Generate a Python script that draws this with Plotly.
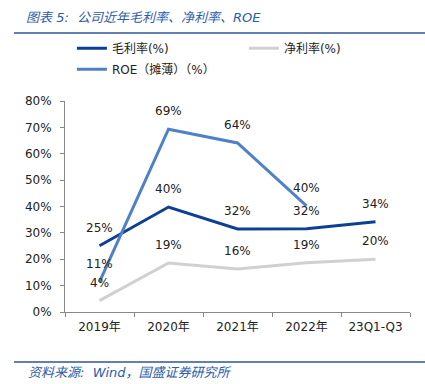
import plotly.graph_objects as go

categories = ["2019年", "2020年", "2021年", "2022年", "23Q1-Q3"]
gross_margin = [25.1, 39.8, 31.5, 31.6, 34.2]
net_margin = [4.3, 18.6, 16.3, 18.7, 20.0]
roe = [11.4, 69.3, 64.1, 40.2]
gross_labels = ["25%", "40%", "32%", "32%", "34%"]
net_labels = ["4%", "19%", "16%", "19%", "20%"]
roe_labels = ["11%", "69%", "64%", "40%"]
y_ticks = [0, 10, 20, 30, 40, 50, 60, 70, 80]

FONT = "DejaVu Sans, Noto Sans CJK SC, sans-serif"
C_GROSS = "#0D3F94"
C_NET = "#D0D0D0"
C_ROE = "#4F81C8"
C_TITLE = "#2A5CAA"

fig = go.Figure()
fig.add_trace(go.Scatter(x=categories, y=gross_margin, mode="lines", name="毛利率(%)",
                         line=dict(color=C_GROSS, width=3), legend="legend"))
fig.add_trace(go.Scatter(x=categories, y=net_margin, mode="lines", name="净利率(%)",
                         line=dict(color=C_NET, width=3), legend="legend"))
fig.add_trace(go.Scatter(x=categories[:len(roe)], y=roe, mode="lines", name="ROE（摊薄）（%）",
                         line=dict(color=C_ROE, width=3), legend="legend2"))

annotations = []
for xs, ys, labs in [(categories, gross_margin, gross_labels),
                     (categories, net_margin, net_labels),
                     (categories[:len(roe)], roe, roe_labels)]:
    for x, y, t in zip(xs, ys, labs):
        annotations.append(dict(x=x, y=y, text=t, showarrow=False, yshift=18,
                                font=dict(size=12, color="#222222", family=FONT)))

annotations.append(dict(xref="paper", yref="paper", x=-0.119, y=1.398, xanchor="left",
                        yanchor="middle", showarrow=False,
                        text="<i>图表 5:  公司近年毛利率、净利率、ROE</i>",
                        font=dict(size=13, color=C_TITLE, family=FONT)))
annotations.append(dict(xref="paper", yref="paper", x=-0.113, y=-0.289, xanchor="left",
                        yanchor="middle", showarrow=False,
                        text="<i>资料来源:  Wind，国盛证券研究所</i>",
                        font=dict(size=13, color=C_TITLE, family=FONT)))

shapes = [
    dict(type="line", xref="paper", yref="paper", x0=-0.148, x1=1.05, y0=1.322, y1=1.322,
         line=dict(color="#2F5597", width=1.5)),
    dict(type="line", xref="paper", yref="paper", x0=-0.148, x1=1.05, y0=-0.237, y1=-0.237,
         line=dict(color="#2F5597", width=1.5)),
]

legend_common = dict(orientation="h", xanchor="left", yanchor="top",
                     entrywidth=127, entrywidthmode="pixels",
                     font=dict(size=12, color="#222222", family=FONT),
                     bgcolor="rgba(0,0,0,0)", tracegroupgap=0)

fig.update_layout(
    width=425, height=384,
    margin=dict(l=65, r=15, t=101, b=72, autoexpand=False),
    paper_bgcolor="white", plot_bgcolor="white",
    font=dict(family=FONT, size=12, color="#222222"),
    showlegend=True,
    legend=dict(x=0.02, y=1.319, **legend_common),
    legend2=dict(x=0.02, y=1.219, **legend_common),
    annotations=annotations,
    shapes=shapes,
    xaxis=dict(type="category", showgrid=False, showline=True, linecolor="#888888",
               ticks="outside", tickson="boundaries", ticklen=4, tickcolor="#888888",
               ticklabelstandoff=4,
               tickfont=dict(size=12, color="#222222"), range=[-0.5, 4.5]),
    yaxis=dict(range=[0, 80], tickvals=y_ticks, ticktext=[f"{v}%" for v in y_ticks],
               showgrid=False, showline=True, linecolor="#888888", ticks="outside",
               ticklen=4, tickcolor="#888888", zeroline=False, ticklabelstandoff=6,
               tickfont=dict(size=12, color="#222222")),
)

fig.write_html("out.html", config={"displayModeBar": False},
               post_script="document.body.style.margin='0';")
